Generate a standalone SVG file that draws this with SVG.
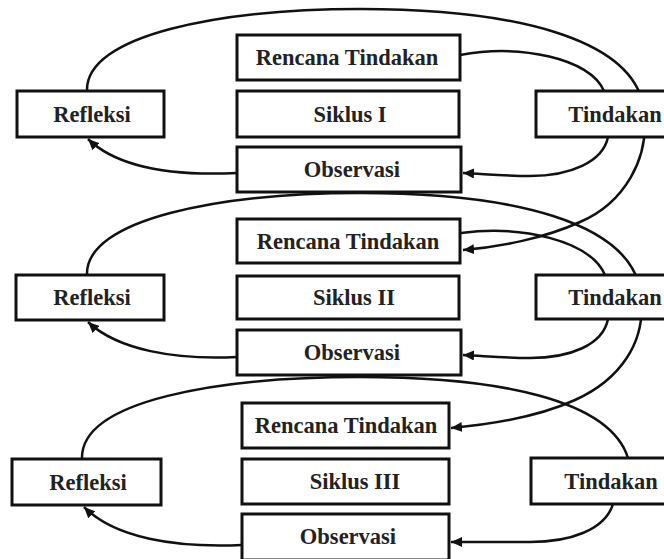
<svg xmlns="http://www.w3.org/2000/svg" width="664" height="559" viewBox="0 0 664 559">
<style>
.box{fill:#fff;stroke:#111;stroke-width:3}
.lbl{font-family:"Liberation Serif","Times New Roman",serif;font-weight:bold;font-size:22.5px;fill:#222;text-anchor:middle}
.c{fill:none;stroke:#111;stroke-width:2.5}
.a{marker-end:url(#arr)}
</style>
<defs>
<marker id="arr" markerUnits="userSpaceOnUse" markerWidth="12" markerHeight="10" refX="11" refY="5" orient="auto">
<path d="M0,0 L11,5 L0,10 z" fill="#111"/>
</marker>
</defs>
<rect width="664" height="559" fill="#fff"/>
<g id="connectors">
<!-- cycle I -->
<path class="c a" d="M87,91 C85,35 220,9 360,9 C520,9 625,40 642,100 C655,160 620,205 580,222 C545,238 500,247 463,250"/>
<path class="c" d="M460,55 C520,44 590,58 604,91"/>
<path class="c a" d="M608,137 C603,162 570,176 530,176 C505,176 485,174 463,173"/>
<path class="c a" d="M237,173 C175,176 118,168 88,139"/>
<!-- cycle II -->
<path class="c a" d="M87,275 C85,219 220,193 360,193 C520,193 622,224 639,284 C652,344 615,382 575,400 C540,416 495,424 451,428"/>
<path class="c" d="M461,233 C520,225 590,240 605,275"/>
<path class="c a" d="M608,319 C603,345 570,358 530,358 C505,358 485,356 463,355"/>
<path class="c a" d="M237,357 C175,360 118,350 88,322"/>
<!-- cycle III -->
<path class="c" d="M82,459 C80,400 220,377 360,377 C500,377 610,400 628,458"/>
<path class="c a" d="M613,504 C605,530 570,542 530,542 C500,542 475,542 451,542"/>
<path class="c a" d="M242,545 C175,548 115,538 84,507"/>
</g>
<g id="refleksi1"><rect class="box" x="17" y="91" width="147" height="46"/><text class="lbl" x="92" y="122">Refleksi</text></g>
<g id="rencana1"><rect class="box" x="237" y="35" width="223" height="45"/><text class="lbl" x="347" y="65">Rencana Tindakan</text></g>
<g id="siklus1"><rect class="box" x="237" y="91" width="222" height="46"/><text class="lbl" x="350" y="122">Siklus I</text></g>
<g id="observasi1"><rect class="box" x="237" y="147" width="224" height="45"/><text class="lbl" x="352" y="177">Observasi</text></g>
<g id="tindakan1"><rect class="box" x="536" y="91" width="160" height="46"/><text class="lbl" x="615" y="122">Tindakan</text></g>

<g id="refleksi2"><rect class="box" x="16" y="275" width="148" height="45"/><text class="lbl" x="92" y="305">Refleksi</text></g>
<g id="rencana2"><rect class="box" x="237" y="219" width="223" height="44"/><text class="lbl" x="348" y="249">Rencana Tindakan</text></g>
<g id="siklus2"><rect class="box" x="237" y="276" width="222" height="43"/><text class="lbl" x="354" y="305">Siklus II</text></g>
<g id="observasi2"><rect class="box" x="237" y="330" width="224" height="45"/><text class="lbl" x="352" y="360">Observasi</text></g>
<g id="tindakan2"><rect class="box" x="536" y="275" width="160" height="44"/><text class="lbl" x="615" y="305">Tindakan</text></g>

<g id="refleksi3"><rect class="box" x="12" y="459" width="149" height="46"/><text class="lbl" x="88" y="490">Refleksi</text></g>
<g id="rencana3"><rect class="box" x="242" y="403" width="207" height="45"/><text class="lbl" x="346" y="433">Rencana Tindakan</text></g>
<g id="siklus3"><rect class="box" x="242" y="459" width="207" height="45"/><text class="lbl" x="355" y="489">Siklus III</text></g>
<g id="observasi3"><rect class="box" x="242" y="514" width="207" height="46"/><text class="lbl" x="348" y="544">Observasi</text></g>
<g id="tindakan3"><rect class="box" x="531" y="458" width="160" height="46"/><text class="lbl" x="611" y="489">Tindakan</text></g>
</svg>
